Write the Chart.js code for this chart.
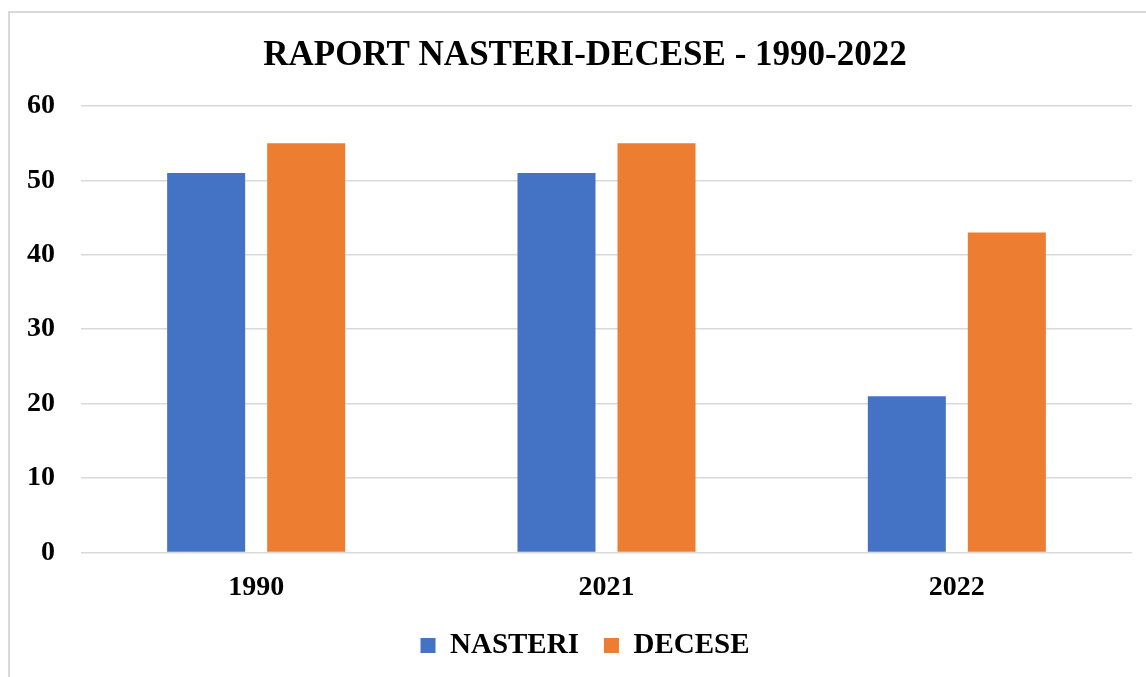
<!DOCTYPE html>
<html>
<head>
<meta charset="utf-8">
<script src="https://cdn.jsdelivr.net/npm/chart.js@4"></script>
<style>
    html, body { margin: 0; padding: 0; background: #fff; overflow: hidden; }
    #frame {
        position: absolute; left: 8px; top: 11px;
        width: 2000px; height: 2000px;
        border: 2px solid #d9d9d9;
    }
    #wrap { position: absolute; left: 0; top: 0; width: 1146px; height: 677px; }
</style>
</head>
<body>
<div id="frame"></div>
<div id="wrap"><canvas id="chart" width="1146" height="677"></canvas></div>
<script>
// Chart data
const categories = ['1990', '2021', '2022'];
const nasteri = [51, 51, 21];
const decese = [55, 55, 43];
const yTicks = [0, 10, 20, 30, 40, 50, 60];

const FONT = "'Liberation Serif', 'Times New Roman', serif";

// y labels stick out left of the (narrow) y axis box, so widen its clip area
const unclipY = {
    id: 'unclipY',
    afterLayout(chart) {
        chart.scales.y.left = 0;
    }
};

new Chart(document.getElementById('chart'), {
    type: 'bar',
    data: {
        labels: categories,
        datasets: [
            {
                label: 'NASTERI',
                data: nasteri,
                backgroundColor: '#4472C4',
                categoryPercentage: 0.571,
                barPercentage: 0.78
            },
            {
                label: 'DECESE',
                data: decese,
                backgroundColor: '#ED7D31',
                categoryPercentage: 0.571,
                barPercentage: 0.78
            }
        ]
    },
    options: {
        responsive: false,
        animation: false,
        layout: {
            padding: { left: 38, right: 14, top: 12, bottom: 7 }
        },
        scales: {
            x: {
                grid: { display: false },
                border: { display: false },
                afterFit: scale => {
                    scale.height -= 10;
                },
                ticks: {
                    color: '#000',
                    padding: 11,
                    font: { family: FONT, size: 28, weight: 'bold' }
                }
            },
            y: {
                min: 0,
                max: 60,
                afterBuildTicks: scale => {
                    scale.ticks = yTicks.map(v => ({ value: v }));
                },
                afterFit: scale => {
                    scale.width = 43;
                },
                grid: {
                    color: '#d9d9d9',
                    lineWidth: 1.5,
                    drawTicks: false
                },
                border: { display: false },
                ticks: {
                    color: '#000',
                    padding: 26,
                    font: { family: FONT, size: 28, weight: 'bold' }
                }
            }
        },
        plugins: {
            title: {
                display: true,
                text: 'RAPORT NASTERI-DECESE - 1990-2022',
                color: '#000',
                padding: { top: 23, bottom: 29 },
                font: { family: FONT, size: 35, weight: 'bold' }
            },
            legend: {
                display: true,
                position: 'bottom',
                labels: {
                    color: '#000',
                    boxWidth: 15,
                    boxHeight: 15,
                    padding: 25,
                    font: { family: FONT, size: 29, weight: 'bold' }
                }
            },
            tooltip: { enabled: false }
        }
    },
    plugins: [unclipY]
});
</script>
</body>
</html>
